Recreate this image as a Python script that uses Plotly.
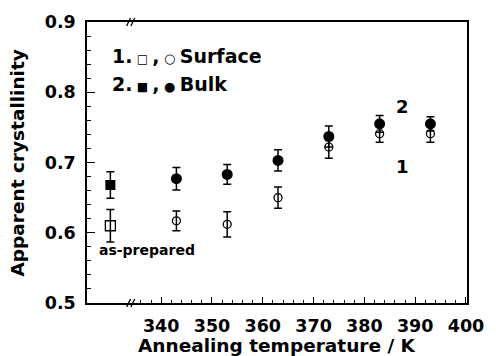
import plotly.graph_objects as go

# Annealing temperatures (330 K slot holds the as-prepared sample)
temps = [330, 343, 353, 363, 373, 383, 393]
surface = [0.610, 0.617, 0.612, 0.650, 0.722, 0.741, 0.741]
surface_err = [0.023, 0.014, 0.018, 0.015, 0.016, 0.012, 0.012]
bulk = [0.668, 0.677, 0.683, 0.703, 0.737, 0.755, 0.755]
bulk_err = [0.019, 0.016, 0.014, 0.015, 0.015, 0.012, 0.010]

x_ticks = [340, 350, 360, 370, 380, 390, 400]
x_minor = [336, 338, 342, 344, 346, 348, 352, 354, 356, 358, 362, 364, 366, 368,
           372, 374, 376, 378, 382, 384, 386, 388, 392, 394, 396, 398]
y_ticks = [0.5, 0.6, 0.7, 0.8, 0.9]

X_RANGE = [325.4, 400.2]
Y_RANGE = [0.5, 0.9]
X_BREAK = 334.0

FONT = "DejaVu Sans, Verdana, sans-serif"
L, R, T, B = 87, 18, 20, 53
W, H = 496, 356
PW, PH = W - L - R, H - T - B


def bold_font(size):
    return dict(family=FONT, size=size, color="black", weight="bold")


fig = go.Figure()

fig.add_trace(go.Scatter(
    x=temps, y=surface, mode="markers",
    marker=dict(symbol=["square-open"] + ["circle-open"] * 6, opacity=1,
                size=[10] + [8] * 6, color="black", line=dict(width=1.3, color="black")),
    error_y=dict(type="data", array=surface_err, color="black", thickness=1.5, width=4),
    showlegend=False,
))
fig.add_trace(go.Scatter(
    x=temps, y=bulk, mode="markers",
    marker=dict(symbol=["square"] + ["circle"] * 6, opacity=1,
                size=[10] + [11] * 6, color="black", line=dict(width=0)),
    error_y=dict(type="data", array=bulk_err, color="black", thickness=1.5, width=4),
    showlegend=False,
))

# axis-break marks "//" on bottom and top axis lines
bx = (X_BREAK - X_RANGE[0]) / (X_RANGE[1] - X_RANGE[0])
dx, dy = 2.0 / PW, 4.0 / PH
for y0 in (0.0, 1.0):
    for off in (-2.2, 2.2):
        cx = bx + off / PW
        fig.add_shape(type="line", xref="paper", yref="paper",
                      x0=cx - dx, y0=y0 - dy, x1=cx + dx, y1=y0 + dy,
                      line=dict(color="black", width=1.3))


def sym(ch, px):
    return f"<span style='font-size:{px}px'> {ch} </span>"


anns = [
    dict(x=(111 - L) / PW, y=1 - (54 - T) / PH,
         text="1." + sym("□", 12) + "," + sym("○", 13) + "Surface"),
    dict(x=(111 - L) / PW, y=1 - (82 - T) / PH,
         text="2." + sym("■", 12) + "," + sym("●", 13) + "Bulk"),
]
for a in anns:
    fig.add_annotation(xref="paper", yref="paper", xanchor="left", yanchor="middle",
                       showarrow=False, font=bold_font(19), **a)

fig.add_annotation(x=387.5, y=0.780, text="2", showarrow=False, font=bold_font(18))
fig.add_annotation(x=387.5, y=0.695, text="1", showarrow=False, font=bold_font(18))
fig.add_annotation(x=327.3, y=0.575, text="as-prepared", showarrow=False,
                   xanchor="left", font=bold_font(14))

# axis titles
fig.add_annotation(xref="paper", yref="paper", x=0.5, y=-(346 - T - PH) / PH,
                   text="Annealing temperature / K", showarrow=False,
                   yanchor="middle", font=bold_font(18.5))
fig.add_annotation(xref="paper", yref="paper", x=-(L - 16) / PW, y=0.5,
                   text="Apparent crystallinity", showarrow=False, textangle=-90,
                   xanchor="center", font=bold_font(18.5))

fig.update_layout(
    width=W, height=H,
    margin=dict(l=L, r=R, t=T, b=B),
    paper_bgcolor="white", plot_bgcolor="white",
    font=bold_font(18),
)
fig.update_xaxes(
    range=X_RANGE, tickmode="array", tickvals=x_ticks,
    tickfont=bold_font(17.5),
    ticks="inside", ticklen=6, tickwidth=1.2, tickcolor="black",
    minor=dict(tickmode="array", tickvals=x_minor, ticks="inside", ticklen=3,
               tickwidth=1, tickcolor="black"),
    showline=True, linecolor="black", linewidth=1.5, mirror=True,
    showgrid=False, zeroline=False, ticklabelstandoff=6,
)
fig.update_yaxes(
    range=Y_RANGE, tickmode="array", tickvals=y_ticks, tickformat=".1f",
    tickfont=bold_font(17.5),
    ticks="inside", ticklen=8, tickwidth=1.2, tickcolor="black",
    minor=dict(dtick=0.02, ticks="inside", ticklen=4, tickwidth=1, tickcolor="black"),
    showline=True, linecolor="black", linewidth=1.5, mirror=True,
    showgrid=False, zeroline=False, ticklabelstandoff=6,
)

fig.write_html("out.html")
